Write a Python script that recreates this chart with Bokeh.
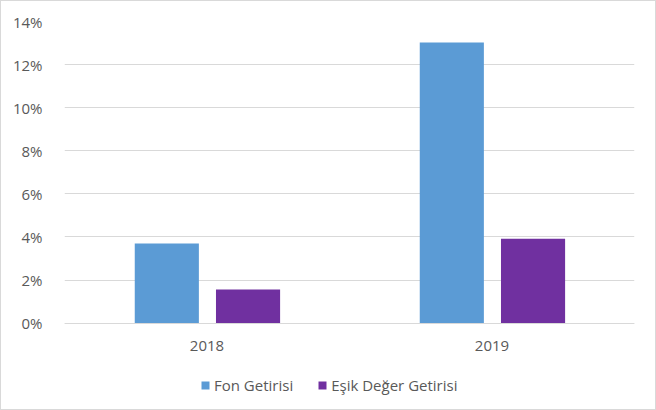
from bokeh.plotting import figure
from bokeh.models import FactorRange, Range1d, FixedTicker, NumeralTickFormatter, Legend, LegendItem, ColumnDataSource
from bokeh.transform import dodge
from bokeh.embed import file_html
from bokeh.resources import INLINE

years = ["2018", "2019"]
fon = [0.0369, 0.1302]
esik = [0.0156, 0.0392]
series_names = ["Fon Getirisi", "Eşik Değer Getirisi"]
y_ticks = [0, 0.02, 0.04, 0.06, 0.08, 0.10, 0.12, 0.14]
y_top = 0.14
y_bottom = -0.0364  # blank room under the zero line for axis labels and legend

src = ColumnDataSource(dict(year=years, fon=fon, esik=esik))

p = figure(width=656, height=410, x_range=FactorRange(factors=years, range_padding=0),
           y_range=Range1d(y_bottom, y_top), output_backend="svg", toolbar_location=None,
           min_border_left=63, min_border_right=23, min_border_top=20, min_border_bottom=10,
           styles={"border": "1px solid #D9D9D9", "box-sizing": "border-box"})

font = "Open Sans"
fs = "15px"
r1 = p.vbar(x=dodge("year", -0.141, range=p.x_range), top="fon", width=0.225, source=src,
            fill_color="#5B9BD5", line_color=None)
r2 = p.vbar(x=dodge("year", 0.144, range=p.x_range), top="esik", width=0.225, source=src,
            fill_color="#7030A0", line_color=None)

p.outline_line_color = None
p.xgrid.grid_line_color = None
p.ygrid.grid_line_color = "#D9D9D9"
p.ygrid.grid_line_width = 1

p.yaxis.ticker = FixedTicker(ticks=y_ticks)
p.yaxis.formatter = NumeralTickFormatter(format="0%")
p.yaxis.axis_line_color = None
p.yaxis.major_tick_line_color = None
p.yaxis.minor_tick_line_color = None
p.yaxis.major_label_standoff = 16
p.yaxis.major_label_text_font = font
p.yaxis.major_label_text_font_size = fs
p.yaxis.major_label_text_color = "#595959"

p.xaxis.fixed_location = 0
p.xaxis.axis_line_color = "#D9D9D9"
p.xaxis.major_tick_line_color = None
p.xaxis.minor_tick_line_color = None
p.xaxis.major_label_standoff = 12
p.xaxis.major_label_text_font = font
p.xaxis.major_label_text_font_size = fs
p.xaxis.major_label_text_color = "#595959"

legend = Legend(items=[LegendItem(label=series_names[0], renderers=[r1]),
                       LegendItem(label=series_names[1], renderers=[r2])],
                orientation="horizontal", location=(136, 6),
                glyph_width=10, glyph_height=10, label_text_font=font,
                label_text_font_size=fs, label_text_color="#595959",
                background_fill_alpha=0,
                border_line_color=None, spacing=24, label_standoff=4, padding=0, margin=0)
p.add_layout(legend, "center")

open("out.html", "w").write(file_html(p, INLINE))
